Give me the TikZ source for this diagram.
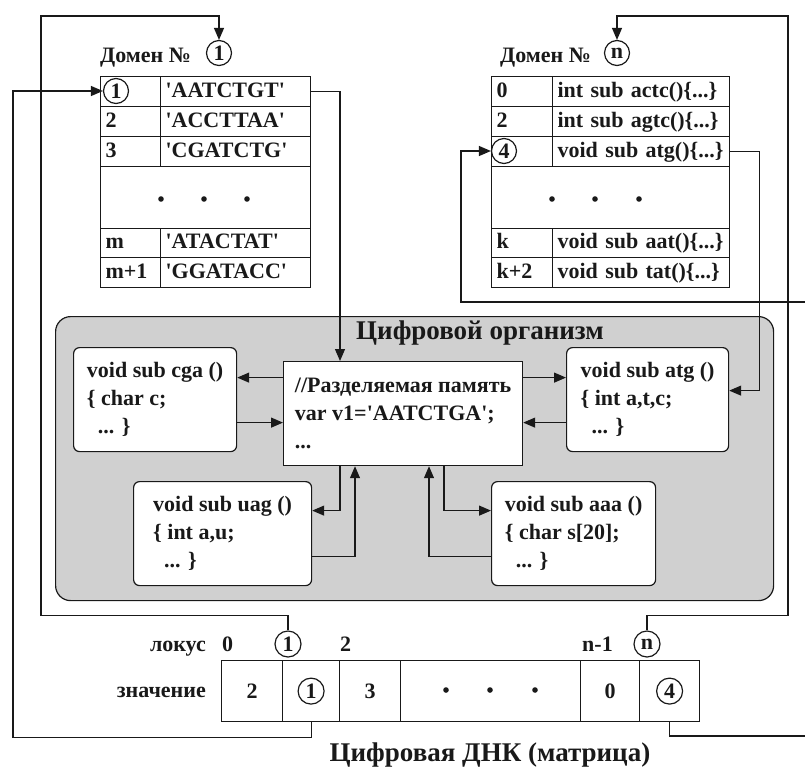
\documentclass[tikz,border=0pt]{standalone}
\usepackage{fontspec}
\setmainfont{Liberation Serif}[Ligatures=TeXOff]
\usetikzlibrary{arrows.meta}
\definecolor{orggray}{RGB}{208,208,208}
\definecolor{ink}{RGB}{25,25,25}

\begin{document}
\begin{tikzpicture}[x=1pt,y=-1pt,
  every node/.style={font=\fontsize{22}{28}\selectfont\bfseries, text=ink},
  txt/.style={inner sep=0pt},
  title/.style={txt, font=\fontsize{27}{30}\selectfont\bfseries},
  line/.style={draw=ink, line width=1.2pt},
  arr/.style={line, -{Triangle[length=12pt,width=10pt]}},
  cell/.style={draw=ink, line width=1.2pt, anchor=north west, inner xsep=5pt, inner ysep=0pt,
               align=left, text height=16pt, text depth=5pt},
  circ/.style={draw=ink, line width=1.2pt, circle, inner sep=0pt, minimum size=26pt},
  codebox/.style={draw=ink, line width=1.2pt, fill=white, rounded corners=6pt, anchor=north west,
                  align=left, inner sep=0pt, minimum height=104pt},
  membox/.style={draw=ink, line width=1.2pt, fill=white, anchor=north west,
                 align=left, inner sep=0pt, minimum height=104pt},
  dnacell/.style={draw=ink, line width=1.2pt, anchor=north west, inner sep=0pt, minimum height=61pt},
  dot/.style={fill=ink}
]
\useasboundingbox (0,0) rectangle (805,769);

% ---------- Domain 1 ----------
\node[txt, anchor=base west] (d1t) at (100,62) {Домен №};
\node[circ, minimum size=25pt] (d1c) at (219,53) {1};

\node[cell, minimum height=30pt, text width=50pt]  (d1k1) at (100,76) {};
\node[cell, minimum height=30pt, text width=140pt] (d1v1) at (160,76) {'AATCTGT'};
\node[circ, minimum size=25pt] (d1k1c) at (116,91) {1};
\node[cell, minimum height=30pt, text width=50pt]  (d1k2) at (100,106) {2};
\node[cell, minimum height=30pt, text width=140pt] (d1v2) at (160,106) {'ACCTTAA'};
\node[cell, minimum height=30pt, text width=50pt]  (d1k3) at (100,136) {3};
\node[cell, minimum height=30pt, text width=140pt] (d1v3) at (160,136) {'CGATCTG'};
\node[cell, minimum height=62pt, text width=200pt] (d1dots) at (100,166) {};
\node[cell, minimum height=29pt, text width=50pt]  (d1k5) at (100,228) {m};
\node[cell, minimum height=29pt, text width=140pt] (d1v5) at (160,228) {'ATACTAT'};
\node[cell, minimum height=30pt, text width=50pt]  (d1k6) at (100,257) {m+1};
\node[cell, minimum height=30pt, text width=140pt] (d1v6) at (160,257) {'GGATACC'};
\foreach \x in {161,204,247} \fill[dot] (\x,199) circle (2.8);

% ---------- Domain n ----------
\node[txt, anchor=base west] (dnt) at (500,62) {Домен №};
\node[circ, minimum size=25pt] (dnc) at (617,53) {n};

\node[cell, minimum height=30pt, text width=51pt]  (dnk1) at (491,76) {0};
\node[cell, minimum height=30pt, text width=167pt] (dnv1) at (552,76) {int sub actc()\{...\}};
\node[cell, minimum height=30pt, text width=51pt]  (dnk2) at (491,106) {2};
\node[cell, minimum height=30pt, text width=167pt] (dnv2) at (552,106) {int sub agtc()\{...\}};
\node[cell, minimum height=30pt, text width=51pt]  (dnk3) at (491,136) {};
\node[cell, minimum height=30pt, text width=167pt] (dnv3) at (552,136) {void sub atg()\{...\}};
\node[circ, minimum size=25pt] (dnk3c) at (504,151) {4};
\node[cell, minimum height=62pt, text width=228pt] (dndots) at (491,166) {};
\node[cell, minimum height=29pt, text width=51pt]  (dnk5) at (491,228) {k};
\node[cell, minimum height=29pt, text width=167pt] (dnv5) at (552,228) {void sub aat()\{...\}};
\node[cell, minimum height=30pt, text width=51pt]  (dnk6) at (491,257) {k+2};
\node[cell, minimum height=30pt, text width=167pt] (dnv6) at (552,257) {void sub tat()\{...\}};
\foreach \x in {552,595,639} \fill[dot] (\x,199) circle (2.8);

% ---------- Digital organism ----------
\node[draw=ink, line width=1.2pt, fill=orggray, rounded corners=15pt, anchor=north west,
      minimum width=718pt, minimum height=284pt, inner sep=0pt] (org) at (55,316) {};
\node[title] (orgt) at (480,333) {Цифровой организм};

\node[membox, minimum width=239pt] (mem) at (283,361)
  {//Разделяемая память\\var v1='AATCTGA';\\...};
\node[codebox, minimum width=163pt] (cga) at (73,347)
  {void sub cga ()\\\{ char c;\\\hspace*{11pt}... \}};
\node[codebox, minimum width=162pt] (atg) at (566,347)
  {void sub atg ()\\\{ int a,t,c;\\\hspace*{11pt}... \}};
\node[codebox, minimum width=178pt] (uag) at (133,481)
  {void sub uag ()\\\{ int a,u;\\\hspace*{11pt}... \}};
\node[codebox, minimum width=164pt] (aaa) at (491,481)
  {void sub aaa ()\\\{ char s[20];\\\hspace*{11pt}... \}};

% ---------- Digital DNA (matrix) ----------
\node[txt, anchor=base east] (lokus) at (206,651) {локус};
\node[txt, anchor=base east] (znach) at (206,697) {значение};

\node[dnacell, minimum width=61pt]  (v0) at (221,660) {2};
\node[dnacell, minimum width=57pt]  (v1) at (282,660) {};
\node[dnacell, minimum width=61pt]  (v2) at (339,660) {3};
\node[dnacell, minimum width=180pt] (vd) at (400,660) {};
\node[dnacell, minimum width=59pt]  (vn1) at (580,660) {0};
\node[dnacell, minimum width=60pt]  (vn) at (639,660) {};
\node[circ] (v1c) at (v1) {1};
\node[circ] (vnc) at (vn) {4};
\foreach \x in {446,490,535} \fill[dot] (\x,690) circle (2.8);

\node[txt, anchor=base west] (l0) at (222,651) {0};
\node[circ] (l1c) at (288,644) {1};
\node[txt, anchor=base west] (l2) at (340,651) {2};
\node[txt, anchor=base west] (ln1) at (582,651) {n-1};
\node[circ] (lnc) at (647,644) {n};

\node[title] (dnat) at (490,755) {Цифровая ДНК (матрица)};

% ---------- connectors ----------
% locus 1 feeds domain 1, locus n feeds domain n
\draw[arr] (l1c.north) -- ++(0,-15) -| (41,16) -| (d1c.north);
\draw[arr] (lnc.north) -- ++(0,-15) -| (788,16) -| (dnc.north);

% value of locus 1 selects row 1 of domain 1
\draw[arr] (v1c |- v1.south) -- ++(0,15) -| ([xshift=-90pt]d1k1c.west) -- (d1k1c.west);

% value of locus n leaves to the right and returns to row 4 of domain n
\coordinate (eR1) at (805,736);
\coordinate (eR2) at (805,302);
\draw[line] (vnc |- vn.south) |- (eR1);
\draw[arr] (eR2) -| ([xshift=-30pt]dnk3c.west) -- (dnk3c.west);

% selected entries flow into the organism
\draw[arr] (d1v1.east) -| ([xshift=57pt]mem.north west);
\coordinate (atgIn) at ([yshift=9pt]atg.east);
\draw[arr] (dnv3.east) -| ([xshift=30pt]atgIn) -- (atgIn);

% shared memory exchange
\coordinate (cgaA) at ([yshift=22pt]cga.east);
\coordinate (cgaB) at ([yshift=-23pt]cga.east);
\draw[arr] (cgaA -| mem.west) -- (cgaA);
\draw[arr] (cgaB) -- (cgaB -| mem.west);

\coordinate (atgA) at ([yshift=22pt]atg.west);
\coordinate (atgB) at ([yshift=-23pt]atg.west);
\draw[arr] (atgA -| mem.east) -- (atgA);
\draw[arr] (atgB) -- (atgB -| mem.east);

\coordinate (uagA) at ([yshift=23pt]uag.east);
\coordinate (uagB) at ([yshift=-23pt]uag.east);
\draw[arr] ([xshift=57pt]mem.south west) |- (uagA);
\draw[arr] (uagB) -| ([xshift=72pt]mem.south west);

\coordinate (aaaA) at ([yshift=23pt]aaa.west);
\coordinate (aaaB) at ([yshift=-23pt]aaa.west);
\draw[arr] ([xshift=161pt]mem.south west) |- (aaaA);
\draw[arr] (aaaB) -| ([xshift=146pt]mem.south west);
\end{tikzpicture}
\end{document}
